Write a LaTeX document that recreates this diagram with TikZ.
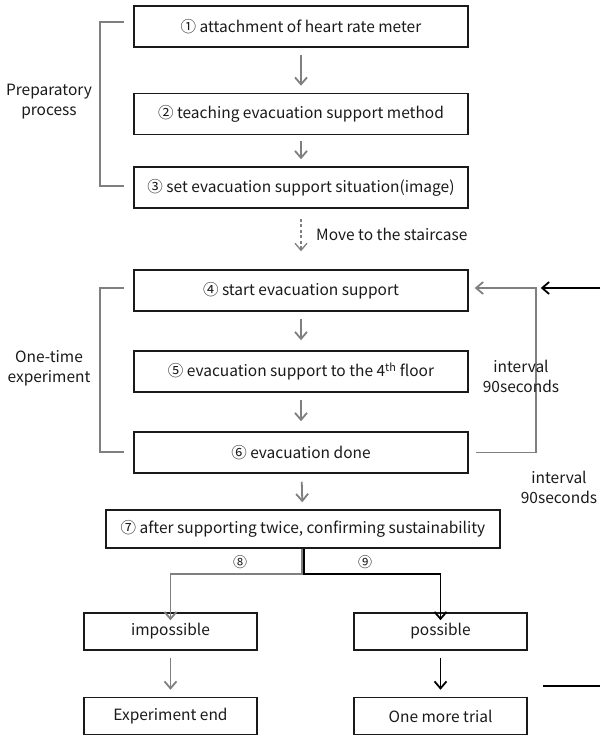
\documentclass[tikz,border=0pt]{standalone}
\usepackage{fontspec}
\setmainfont{Noto Sans CJK KR}
\usetikzlibrary{arrows.meta}
\definecolor{lg}{HTML}{7F7F7F}
\definecolor{dk}{HTML}{1A1A1A}
\tikzset{
  box/.style={draw=dk, line width=1.5pt, minimum width=334pt, minimum height=41pt, inner sep=0pt, font=\fontsize{15.5}{18}\selectfont, text=dk},
  smallbox/.style={box, minimum width=173pt, minimum height=37pt},
  garrow/.style={draw=lg, line width=1.8pt, -{Straight Barb[length=7pt,width=12pt]}},
  barrow/.style={draw=black, line width=1.8pt, -{Straight Barb[length=7pt,width=12pt]}},
  gline/.style={draw=lg, line width=1.5pt},
  lbl/.style={font=\fontsize{15.5}{20}\selectfont, align=center, text=dk, inner sep=0pt},
  circ/.style={font=\fontsize{14}{16}\selectfont, text=dk, inner sep=0pt}
}
\begin{document}
\begin{tikzpicture}[x=1pt,y=-1pt]
\useasboundingbox (0,0) rectangle (600,738);
\node[box] (b1) at (301,26.5) {① attachment of heart rate meter};
\node[box] (b2) at (301,114) {② teaching evacuation support method};
\node[box] (b3) at (301,187.5) {③ set evacuation support situation(image)};
\node[box] (b4) at (301,290.5) {④ start evacuation support};
\node[box] (b5) at (301,371.5) {⑤ evacuation support to the 4\textsuperscript{th} floor};
\node[box] (b6) at (301,452.5) {⑥ evacuation done};
\node[box, minimum width=394pt, minimum height=38pt] (b7) at (303,529) {⑦ after supporting twice, confirming sustainability};
\node[smallbox] (imp) at (170.5,631.5) {impossible};
\node[smallbox] (pos) at (440.5,631.5) {possible};
\node[smallbox] (fin) at (170.5,716) {Experiment end};
\node[smallbox] (more) at (440.5,716) {One more trial};

\draw[garrow, shorten <=7pt, shorten >=7pt] (b1) -- (b2);
\draw[garrow, shorten <=6pt, shorten >=7pt] (b2) -- (b3);
\draw[garrow, line width=1.3pt, dashed, dash pattern=on 3pt off 2.5pt, shorten <=10pt, shorten >=18pt] (b3) -- (b4);
\node[lbl, anchor=west] (mv) at (316,234) {Move to the staircase};
\draw[garrow, shorten <=7pt, shorten >=10pt] (b4) -- (b5);
\draw[garrow, shorten <=7pt, shorten >=10pt] (b5) -- (b6);
\draw[garrow, shorten <=8pt, shorten >=7pt] (b6) -- (b7);

% loop back
\draw[garrow] ([xshift=7pt]b6.east) -- ++(60,0) |- ([xshift=6pt,yshift=2.5pt]b4.east);
\node[lbl] (iv1) at (521,376) {interval\\90seconds};
\coordinate (rin) at (600,288);
\draw[barrow] (rin) -- ([xshift=72pt,yshift=2.5pt]b4.east);
\node[lbl] (iv2) at (559,487) {interval\\90seconds};

% branches
\draw[garrow] ([xshift=-1pt]b7.south) -- ++(0,25) -| ([yshift=-8pt]imp.north);
\draw[barrow] ([xshift=1pt]b7.south) -- ++(0,25) -| ([yshift=-8pt]pos.north);
\node[circ] (c8) at (240,562) {⑧};
\node[circ] (c9) at (365,562) {⑨};
\draw[garrow, shorten <=7pt, shorten >=7pt] (imp) -- (fin);
\draw[barrow, shorten <=7pt, shorten >=7pt] (pos) -- (more);
\coordinate (ra) at (543,686);
\coordinate (rb) at (600,686);
\draw[black, line width=1.8pt] (ra) -- (rb);

% brackets
\draw[gline] (124,22) -- (100,22) -- (100,186) -- (124,186);
\node[lbl] (prep) at (49,102) {Preparatory\\process};
\draw[gline] (124,288) -- (100,288) -- (100,452) -- (124,452);
\node[lbl] (one) at (49,368) {One-time\\experiment};
\end{tikzpicture}
\end{document}
